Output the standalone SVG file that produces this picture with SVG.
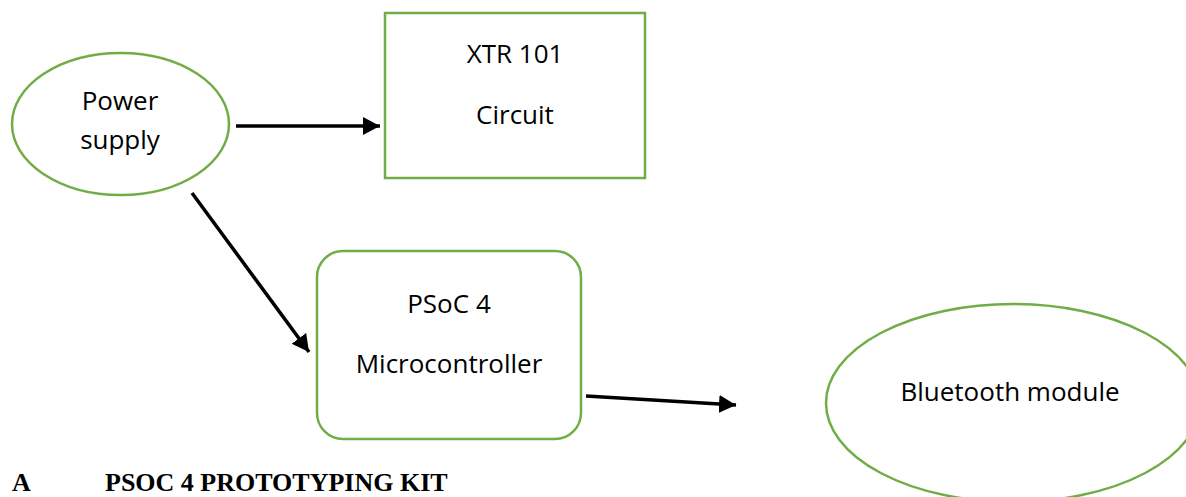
<svg xmlns="http://www.w3.org/2000/svg" width="1186" height="497" viewBox="0 0 1186 497">
  <style>
    .node { fill: #ffffff; stroke: #70AD47; stroke-width: 2.5; }
    .lbl { font-family: "Open Sans", "Noto Sans", sans-serif; font-size: 26px; fill: #000000; text-anchor: middle; }
    .conn { stroke: #000000; stroke-width: 3.5; fill: none; marker-end: url(#arrow); }
    .caption { font-family: "Liberation Serif", "Times New Roman", serif; font-weight: bold; font-size: 26px; fill: #000000; }
  </style>
  <defs>
    <marker id="arrow" markerUnits="userSpaceOnUse" markerWidth="20" markerHeight="20" refX="17" refY="9" orient="auto">
      <path d="M0,0 L17,9 L0,18 Z" fill="#000000"/>
    </marker>
  </defs>
  <rect width="1186" height="497" fill="#ffffff"/>

  <g id="power-supply">
    <ellipse class="node" cx="120.5" cy="124" rx="108.5" ry="71"/>
    <text class="lbl" x="120" y="110">Power</text>
    <text class="lbl" x="120" y="149">supply</text>
  </g>

  <g id="xtr101">
    <rect class="node" x="385" y="13" width="260" height="165"/>
    <text class="lbl" x="515" y="63">XTR 101</text>
    <text class="lbl" x="515" y="124">Circuit</text>
  </g>

  <g id="psoc4">
    <rect class="node" x="317" y="251" width="264" height="188" rx="26" ry="26"/>
    <text class="lbl" x="449" y="313">PSoC 4</text>
    <text class="lbl" x="449" y="373">Microcontroller</text>
  </g>

  <g id="bluetooth">
    <ellipse class="node" cx="1013" cy="403" rx="187" ry="99"/>
    <text class="lbl" x="1010" y="401">Bluetooth module</text>
  </g>

  <g id="connectors">
    <line class="conn" x1="236" y1="126" x2="380" y2="126"/>
    <line class="conn" x1="192" y1="193" x2="309" y2="352"/>
    <line class="conn" x1="586" y1="396" x2="736" y2="405"/>
  </g>

  <text class="caption" x="12" y="491">A</text>
  <text class="caption" x="105" y="491">PSOC 4 PROTOTYPING KIT</text>
</svg>
